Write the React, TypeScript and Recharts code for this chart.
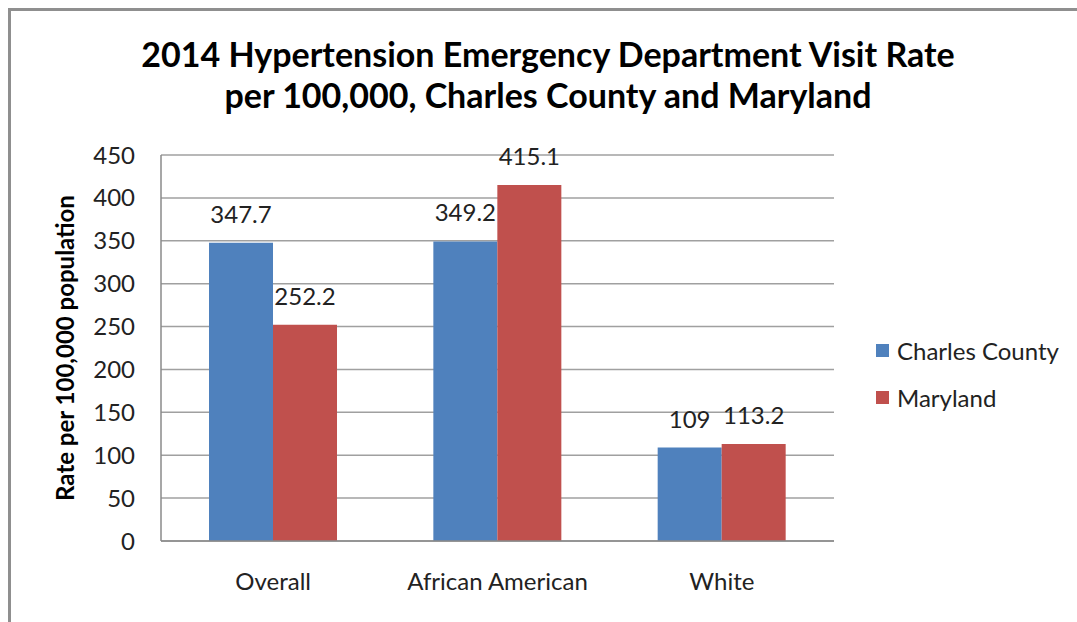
import React from "react";
import { BarChart, Bar, XAxis, YAxis, CartesianGrid, Legend, LabelList } from "recharts";

const categories = ["Overall", "African American", "White"];
const charlesCounty = [347.7, 349.2, 109];
const maryland = [252.2, 415.1, 113.2];
const yTicks = [0, 50, 100, 150, 200, 250, 300, 350, 400, 450];
const seriesNames = ["Charles County", "Maryland"];
const seriesColors = ["#4F81BD", "#C0504D"];

const data = categories.map((c, i) => ({
  category: c,
  charles: charlesCounty[i],
  maryland: maryland[i],
}));

const FONT = "Lato, 'Open Sans', sans-serif";

const LegendContent = () => (
  <div style={{ fontFamily: FONT, fontSize: 24, color: "#222" }}>
    {seriesNames.map((n, i) => (
      <div key={n} style={{ display: "flex", alignItems: "center", height: 47 }}>
        <span style={{ display: "inline-block", width: 13, height: 13, background: seriesColors[i], marginRight: 8 }} />
        <span>{n}</span>
      </div>
    ))}
  </div>
);

const YLabel = (props: any) => {
  const cy = 348;
  return (
    <text
      x={64}
      y={cy}
      transform={`rotate(-90, 64, ${cy})`}
      textAnchor="middle"
      dominantBaseline="central"
      style={{ fontFamily: FONT, fontSize: 24, fontWeight: 700, fill: "#000" }}
    >
      Rate per 100,000 population
    </text>
  );
};

export default function App() {
  return (
    <div style={{ position: "absolute", left: 0, top: 0, width: 1077, height: 622, background: "#fff", overflow: "hidden" }}>
      <div style={{ position: "absolute", left: 8, top: 8, width: 1069, height: 614, borderLeft: "3px solid #8f8f8f", borderTop: "3px solid #8f8f8f", boxSizing: "border-box" }} />
      <div
        style={{
          position: "absolute",
          left: 0,
          top: 33,
          width: 1096,
          textAlign: "center",
          fontFamily: FONT,
          fontWeight: 700,
          fontSize: 34,
          lineHeight: "41px",
          color: "#000",
        }}
      >
        2014 Hypertension Emergency Department Visit Rate
        <br />
        per 100,000, Charles County and Maryland
      </div>
      <div style={{ position: "absolute", left: 0, top: 0 }}>
        <BarChart
          width={1077}
          height={622}
          data={data}
          margin={{ top: 155, right: 43, bottom: 0, left: 0 }}
          barCategoryGap="21.4%"
          barGap={0}
        >
          <CartesianGrid vertical={false} stroke="#a0a0a0" strokeWidth={1.5} />
          <XAxis
            dataKey="category"
            tickLine={false}
            axisLine={{ stroke: "#8a8a8a", strokeWidth: 1.5 }}
            tickMargin={26}
            tick={{ fontFamily: FONT, fontSize: 24, fill: "#222" }}
            height={81}
          />
          <YAxis
            width={161}
            domain={[0, 450]}
            ticks={yTicks}
            interval={0}
            tickLine={false}
            axisLine={{ stroke: "#8a8a8a", strokeWidth: 1.5 }}
            tickMargin={20}
            tick={{ fontFamily: FONT, fontSize: 24, fill: "#222" }}
            label={<YLabel />}
          />
          <Legend
            layout="vertical"
            align="right"
            verticalAlign="top"
            content={<LegendContent />}
            wrapperStyle={{ left: 876, top: 327, width: 200 }}
          />
          <Bar dataKey="charles" name={seriesNames[0]} fill={seriesColors[0]} isAnimationActive={false}>
            <LabelList dataKey="charles" position="top" offset={20} style={{ fontFamily: FONT, fontSize: 24, fill: "#222" }} />
          </Bar>
          <Bar dataKey="maryland" name={seriesNames[1]} fill={seriesColors[1]} isAnimationActive={false}>
            <LabelList dataKey="maryland" position="top" offset={20} style={{ fontFamily: FONT, fontSize: 24, fill: "#222" }} />
          </Bar>
        </BarChart>
      </div>
    </div>
  );
}
